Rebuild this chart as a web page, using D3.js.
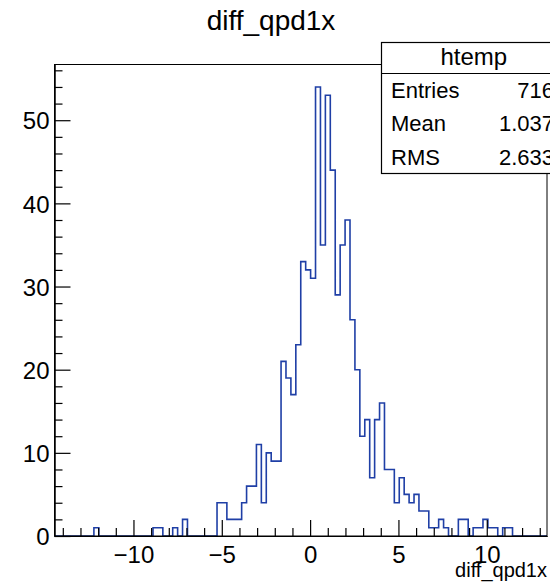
<!DOCTYPE html>
<html>
<head>
<meta charset="utf-8">
<script src="https://cdn.jsdelivr.net/npm/d3@7"></script>
<style>
    body { margin: 0; background: #fff; }
    svg { display: block; font-family: "Liberation Sans", Arial, Helvetica, sans-serif; }
</style>
</head>
<body>
<div id="chart"></div>
<script>
(function() {

    var w = 550;
    var h = 583;

    // histogram htemp: 100 bins between xMin and xMax
    var xMin = -14.47;
    var xMax = 13.41;
    var binCounts = [
        0, 0, 0, 0, 0, 0, 0, 0, 1, 0,
        0, 0, 0, 0, 0, 0, 0, 0, 0, 0,
        1, 1, 0, 0, 1, 0, 2, 0, 0, 0,
        0, 0, 0, 4, 4, 2, 2, 2, 4, 6,
        6, 11, 4, 10, 9, 9, 21, 19, 17, 23,
        33, 32, 31, 54, 35, 53, 44, 29, 35, 38,
        26, 20, 12, 14, 7, 14, 16, 8, 8, 4,
        7, 5, 4, 5, 3, 3, 1, 1, 2, 1,
        0, 0, 2, 2, 0, 1, 1, 2, 1, 1,
        0, 1, 1, 0, 0, 0, 0, 0, 0, 0
    ];

    var xMajorTicks = [-10, -5, 0, 5, 10];
    var yMajorTicks = [0, 10, 20, 30, 40, 50];

    var statLabels = ["Entries", "Mean", "RMS"];
    var statValues = ["716", "1.037", "2.633"];

    var title = "diff_qpd1x";
    var statsName = "htemp";

    var frame = { left: 54.5, right: 547, top: 64.5, bottom: 536 };

    var svg = d3.select("#chart")
        .append("svg")
        .attr("width", w)
        .attr("height", h);

    var nBins = binCounts.length;
    var binWidth = (xMax - xMin) / nBins;
    var yMax = d3.max(binCounts) * 1.05;

    var x = d3.scaleLinear().domain([xMin, xMax]).range([frame.left, frame.right]);
    var y = d3.scaleLinear().domain([0, yMax]).range([frame.bottom, frame.top]);

    // step outline of the histogram
    var pts = [[xMin, 0]];
    binCounts.forEach(function(c, i) {
        pts.push([xMin + i * binWidth, c]);
    });
    pts.push([xMax, 0]);

    var line = d3.line()
        .x(function(d) { return x(d[0]); })
        .y(function(d) { return y(d[1]); })
        .curve(d3.curveStepAfter);

    svg.append("path")
        .datum(pts)
        .attr("d", line)
        .attr("fill", "none")
        .attr("stroke", "#1f3fa6")
        .attr("stroke-width", 1.6);

    // frame
    svg.append("rect")
        .attr("x", frame.left)
        .attr("y", frame.top)
        .attr("width", frame.right - frame.left)
        .attr("height", frame.bottom - frame.top)
        .attr("fill", "none")
        .attr("stroke", "#000")
        .attr("stroke-width", 1);

    // x axis: minor ticks every 1, major every 5
    var xMinor = d3.range(Math.ceil(xMin), Math.floor(xMax) + 1).filter(function(v) {
        return xMajorTicks.indexOf(v) < 0;
    });
    svg.append("g")
        .attr("transform", "translate(0," + frame.bottom + ")")
        .call(d3.axisBottom(x).tickValues(xMinor).tickSizeInner(-8).tickSizeOuter(0).tickFormat(""));
    var gx = svg.append("g")
        .attr("transform", "translate(0," + frame.bottom + ")")
        .call(d3.axisBottom(x).tickValues(xMajorTicks).tickSizeInner(-16).tickSizeOuter(0).tickPadding(10));

    // y axis: minor ticks every 2, major every 10
    var yMinor = d3.range(0, Math.floor(yMax) + 1, 2).filter(function(v) {
        return yMajorTicks.indexOf(v) < 0;
    });
    svg.append("g")
        .attr("transform", "translate(" + frame.left + ",0)")
        .call(d3.axisLeft(y).tickValues(yMinor).tickSizeInner(-8).tickSizeOuter(0).tickFormat(""));
    var gy = svg.append("g")
        .attr("transform", "translate(" + frame.left + ",0)")
        .call(d3.axisLeft(y).tickValues(yMajorTicks).tickSizeInner(-16).tickSizeOuter(0).tickPadding(5));

    svg.selectAll(".domain").attr("stroke", "#000");
    svg.selectAll(".tick line").attr("stroke", "#000").attr("stroke-width", 1.2);
    gx.selectAll("text").attr("font-size", 24).attr("fill", "#000");
    gy.selectAll("text").attr("font-size", 24).attr("fill", "#000")
        .attr("dy", "0.36em");
    svg.selectAll("g").attr("font-family", null);

    // titles
    svg.append("text")
        .attr("x", 271)
        .attr("y", 30)
        .attr("text-anchor", "middle")
        .attr("font-size", 28)
        .text(title);

    svg.append("text")
        .attr("x", frame.right)
        .attr("y", 577)
        .attr("text-anchor", "end")
        .attr("font-size", 20)
        .text(title);

    // stats box (runs past the right edge like the original canvas)
    var box = { left: 381.5, top: 42.5, head: 73.5, bottom: 173.5, right: 566 };
    svg.append("rect")
        .attr("x", box.left)
        .attr("y", box.top)
        .attr("width", box.right - box.left)
        .attr("height", box.bottom - box.top)
        .attr("fill", "#fff")
        .attr("stroke", "#000")
        .attr("stroke-width", 1.2);
    svg.append("line")
        .attr("x1", box.left).attr("x2", box.right)
        .attr("y1", box.head).attr("y2", box.head)
        .attr("stroke", "#000")
        .attr("stroke-width", 1.2);
    svg.append("text")
        .attr("x", (box.left + box.right) / 2)
        .attr("y", 65)
        .attr("text-anchor", "middle")
        .attr("font-size", 24)
        .text(statsName);

    var rowH = (box.bottom - box.head) / statLabels.length;
    statLabels.forEach(function(lab, i) {
        var cy = box.head + rowH * (i + 0.5);
        svg.append("text")
            .attr("x", 391)
            .attr("y", cy)
            .attr("dy", "0.36em")
            .attr("font-size", 22)
            .text(lab);
        svg.append("text")
            .attr("x", 554)
            .attr("y", cy)
            .attr("dy", "0.36em")
            .attr("text-anchor", "end")
            .attr("font-size", 22)
            .text(statValues[i]);
    });

})();
</script>
</body>
</html>
